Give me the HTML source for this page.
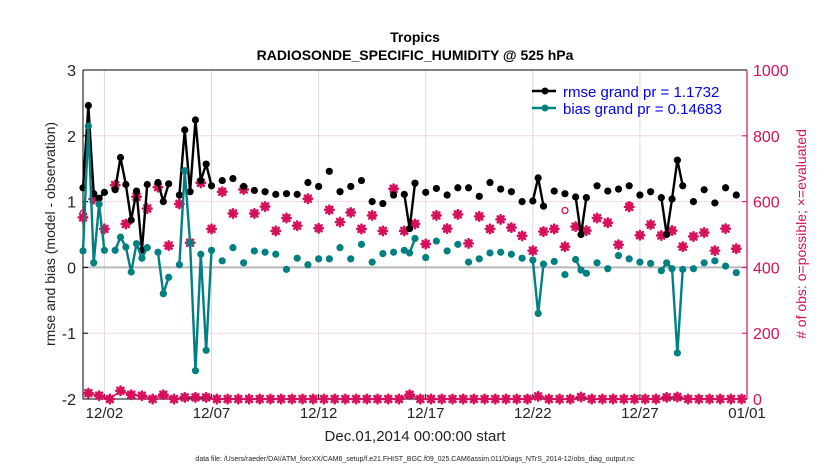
<!DOCTYPE html>
<html><head><meta charset="utf-8"><style>
body{margin:0;background:#fff;width:830px;height:470px;overflow:hidden;font-family:"Liberation Sans",sans-serif}
svg text{font-family:"Liberation Sans",sans-serif}
</style></head><body>
<svg id="chart" width="830" height="470" xmlns="http://www.w3.org/2000/svg">
<text x="415" y="42" text-anchor="middle" font-size="14" font-weight="bold">Tropics</text>
<text x="415" y="60" text-anchor="middle" font-size="14" font-weight="bold">RADIOSONDE_SPECIFIC_HUMIDITY @ 525 hPa</text>
<text x="415" y="441" text-anchor="middle" font-size="15" fill="#222">Dec.01,2014 00:00:00 start</text>
<text x="415" y="461" text-anchor="middle" font-size="7" fill="#222">data file: /Users/raeder/DAI/ATM_forcXX/CAM6_setup/f.e21.FHIST_BGC.f09_025.CAM6assim.011/Diags_NTrS_2014-12/obs_diag_output.nc</text>
<text transform="translate(55,234) rotate(-90)" text-anchor="middle" font-size="14" fill="#222">rmse and bias (model - observation)</text>
<text transform="translate(806,234) rotate(-90)" text-anchor="middle" font-size="14" fill="#d6105c"># of obs: o=possible; ×=evaluated</text>
<g id="grid"></g><g id="axes"></g><g id="marks"></g>
<g>
<line x1="532" y1="91" x2="556" y2="91" stroke="#000" stroke-width="2.5"/><circle cx="545" cy="91" r="3.5" fill="#000"/>
<text x="563" y="97" font-size="15" fill="#0000ee">rmse grand pr = 1.1732</text>
<line x1="532" y1="108" x2="556" y2="108" stroke="#008080" stroke-width="2.5"/><circle cx="545" cy="108" r="3.5" fill="#008080"/>
<text x="563" y="114" font-size="15" fill="#0000ee">bias grand pr = 0.14683</text>
</g>
</svg>
<script>
const xLabels=["12/02","12/07","12/12","12/17","12/22","12/27","01/01"];
const xLabelIdx=[4,24,44,64,84,104,124];
const leftTicks=[3,2,1,0,-1,-2];
const rightTicks=[1000,800,600,400,200,0];
const rmseIdx=[0,1,2,3,4,6,7,8,9,10,11,12,14,15,16,18,19,20,21,22,23,24,26,28,30,32,34,36,38,40,42,44,46,48,50,52,54,56,58,60,61,62,64,66,68,70,72,74,76,78,80,82,84,85,86,88,90,92,93,94,96,98,100,102,104,106,108,109,110,111,112,114,116,118,120,122];
const rmseVals=[1.21,2.46,1.12,1.05,1.14,1.18,1.67,1.26,0.72,1.16,0.26,1.26,1.29,1.0,1.27,1.10,2.09,1.15,2.24,1.32,1.57,1.24,1.32,1.35,1.23,1.17,1.15,1.11,1.12,1.11,1.29,1.23,1.46,1.15,1.23,1.32,1.0,0.97,1.10,1.11,0.59,1.28,1.14,1.20,1.10,1.21,1.21,1.08,1.29,1.19,1.15,1.0,1.01,1.36,0.93,1.16,1.12,1.07,0.5,1.06,1.24,1.16,1.19,1.24,1.10,1.15,1.06,0.5,1.04,1.63,1.24,1.0,1.18,0.98,1.21,1.10];
const biasVals=[0.25,2.15,0.07,0.96,0.26,0.26,0.46,0.31,-0.07,0.36,0.14,0.30,0.23,-0.40,-0.15,0.04,1.47,0.37,-1.57,0.20,-1.26,0.26,0.10,0.30,0.07,0.25,0.23,0.20,-0.03,0.14,0.04,0.13,0.13,0.30,0.13,0.35,0.08,0.21,0.23,0.26,0.22,0.44,0.15,0.40,0.25,0.35,0.08,0.13,0.22,0.23,0.20,0.14,0.11,-0.70,0.05,0.09,-0.11,0.12,-0.04,-0.09,0.07,-0.02,0.18,0.13,0.08,0.06,-0.05,0.07,-0.02,-1.30,-0.03,-0.02,0.07,0.10,0.02,-0.08];
const evalCounts=[552,18,608,10,517,0,650,25,532,13,615,10,579,0,644,13,466,0,593,5,475,5,657,5,517,0,630,0,564,0,637,0,564,0,585,0,511,0,550,0,527,0,609,0,519,0,575,0,538,0,567,0,517,0,558,0,511,0,639,0,511,13,532,0,471,0,558,0,518,0,561,0,473,0,555,0,517,0,546,0,521,0,496,0,451,8,509,0,517,0,463,0,524,6,512,0,550,0,536,0,469,0,584,0,498,0,530,0,497,5,512,6,463,0,494,0,506,0,451,0,518,0,457,0];
const possIdx=[0,90,102];
const possVals=[565,573,590];
const NS="http://www.w3.org/2000/svg";
const L=83,R=747,T=70,B=399,N=124;
const xS=i=>L+i*(R-L)/N;
const yL=v=>T+(3-v)*(B-T)/5;
const yR=c=>B-c*(B-T)/1000;
function mk(tag,attrs,parent){const e=document.createElementNS(NS,tag);for(const k in attrs)e.setAttribute(k,attrs[k]);parent.appendChild(e);return e;}
const grid=document.getElementById('grid'),axes=document.getElementById('axes'),marks=document.getElementById('marks');
xLabelIdx.forEach((ix,k)=>{
 const g=mk('line',{x1:xS(ix),x2:xS(ix),y1:T,y2:B,stroke:'#dcdcdc','stroke-width':1},grid);
 
 
 mk('line',{x1:xS(ix),x2:xS(ix),y1:B,y2:B-5,stroke:'#000'},axes);
 const t=mk('text',{x:xS(ix),y:B+19,'text-anchor':'middle','font-size':15,fill:'#222'},axes);t.textContent=xLabels[k];
 
 
});
rightTicks.forEach(c=>{
 if(c>0&&c<1000&&c!==400){const g=mk('line',{x1:L,x2:R,y1:yR(c),y2:yR(c),stroke:'#f0d8e0','stroke-width':1},grid);
 
 }
 mk('line',{x1:R,x2:R-5,y1:yR(c),y2:yR(c),stroke:'#d6105c'},axes);
 const t=mk('text',{x:R+6,y:yR(c)+6,'font-size':16,fill:'#d6105c'},axes);t.textContent=c;
 
 
});
const zl=mk('line',{x1:L,x2:R,y1:yL(0),y2:yL(0),stroke:'#b8b8b8','stroke-width':2},grid);


leftTicks.forEach(v=>{
 mk('line',{x1:L,x2:L+5,y1:yL(v),y2:yL(v),stroke:'#000'},axes);
 const t=mk('text',{x:L-7,y:yL(v)+6,'text-anchor':'end','font-size':16,fill:'#222'},axes);t.textContent=v;
 
 
});
mk('path',{d:`M${L},${T}V${B}H${R}`,fill:'none',stroke:'#000','stroke-width':1},axes);
mk('line',{x1:L,x2:R,y1:T,y2:T,stroke:'#000'},axes);
mk('line',{x1:R,x2:R,y1:T,y2:B,stroke:'#d6105c','stroke-width':1.2},axes);
function star(x,y,col){
 const g=mk('g',{stroke:col,'stroke-width':2.6,'stroke-linecap':'round'},marks);
 
 
 mk('line',{x1:x-4.2,x2:x+4.2,y1:y,y2:y},g);mk('line',{x1:x,x2:x,y1:y-4.2,y2:y+4.2},g);
 mk('line',{x1:x-3,x2:x+3,y1:y-3,y2:y+3},g);mk('line',{x1:x-3,x2:x+3,y1:y+3,y2:y-3},g);
 mk('circle',{cx:x,cy:y,r:3.2,fill:col,stroke:'none'},g);
}
let dB='';evalCounts.forEach((c,i)=>{if(c<100)dB+=(dB?'L':'M')+xS(i)+','+yR(c);});
const bl=mk('path',{d:dB,fill:'none',stroke:'#d6105c','stroke-width':1.5},marks);


possIdx.forEach((ix,k)=>{const c=mk('circle',{cx:xS(ix),cy:yR(possVals[k]),r:3,fill:'none',stroke:'#d6105c','stroke-width':1.3},marks);
 
 });
evalCounts.forEach((c,i)=>star(xS(i),yR(c),'#d6105c'));
function series(vals,col,name){
 let d='';for(let k=0;k<rmseIdx.length;k++){const x=xS(rmseIdx[k]),y=yL(vals[k]);
  d+=(k>0&&rmseIdx[k]-rmseIdx[k-1]===1?'L':'M')+x+','+y;}
 const p=mk('path',{d:d,fill:'none',stroke:col,'stroke-width':2.4,'stroke-linejoin':'round'},marks);
 
 
 rmseIdx.forEach((ix,k)=>{const c=mk('circle',{cx:xS(ix),cy:yL(vals[k]),r:3.6,fill:col},marks);
  
  });
}
series(rmseVals,'#000','rmse');
series(biasVals,'#008080','bias');
</script>
</body></html>
